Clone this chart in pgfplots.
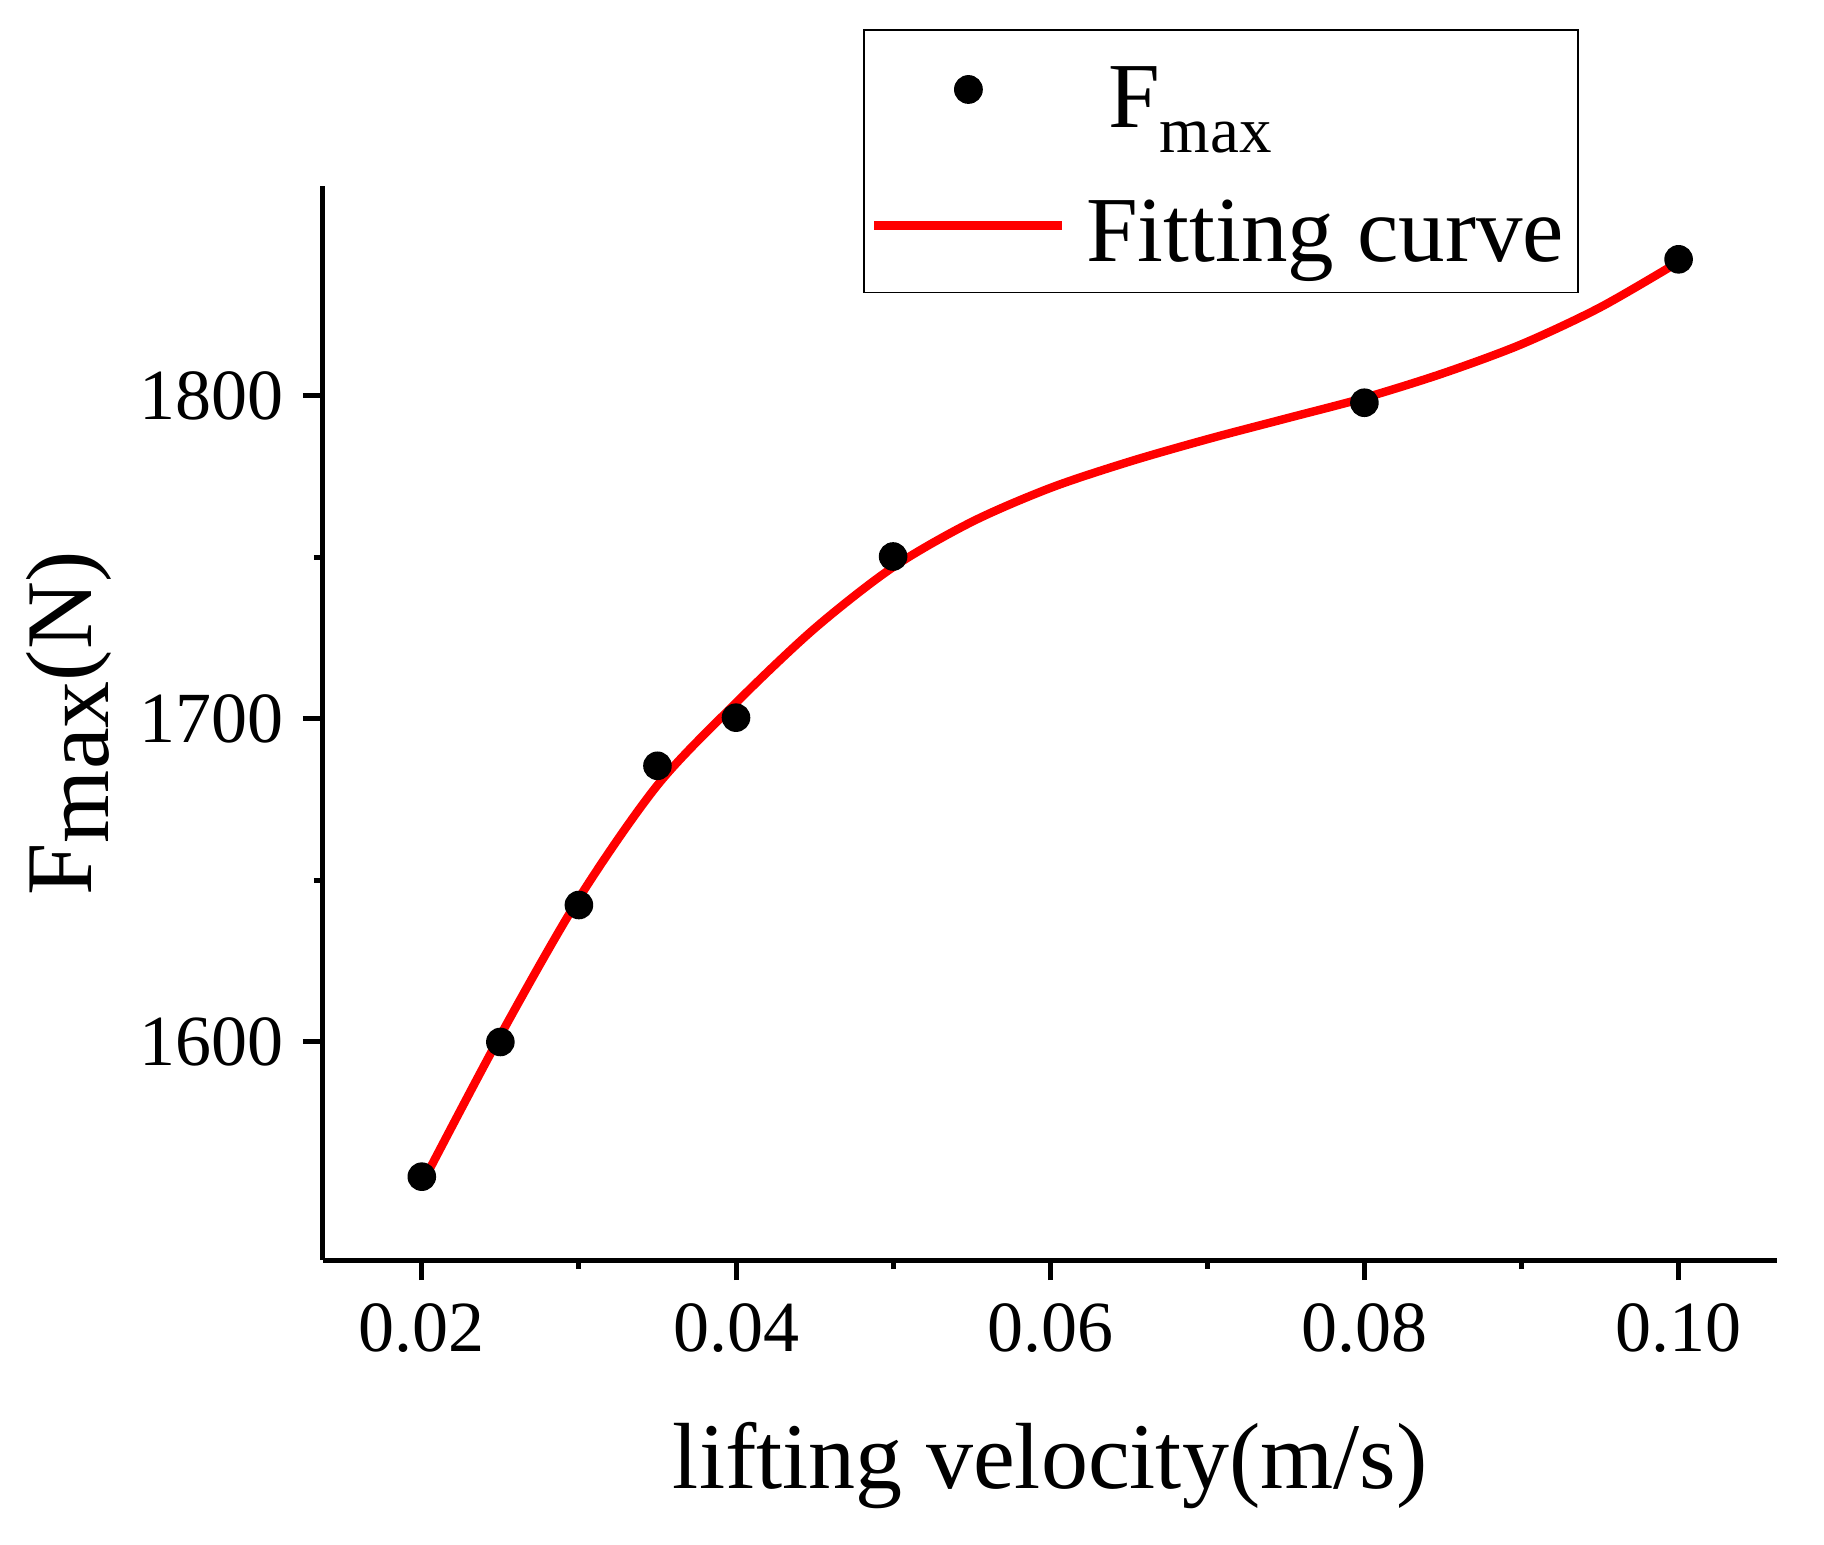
\documentclass[border=0pt]{standalone}
\usepackage{pgfplots}
\pgfplotsset{compat=1.18}
\usepackage{fontspec}
\setmainfont{Liberation Serif}
\pgfplotsset{
  mydot/.style={legend image code/.code={\draw[mark repeat=2,mark phase=2,##1] plot coordinates {(0pt,9.6pt)(23.5pt,9.6pt)(47pt,9.6pt)};}},
  myline/.style={legend image code/.code={\draw[##1, mark=none, line width=2.25pt] (0pt,8.85pt) -- (47pt,8.85pt);}},
}
\pgfplotstableread{
x y
0.020 1558.3
0.025 1600.0
0.030 1642.4
0.035 1685.5
0.040 1700.4
0.050 1750.3
0.080 1797.9
0.100 1842.3
}\pointdata
\pgfplotstableread{
x y
0.020 1556.0
0.025 1602.0
0.030 1644.5
0.035 1679.5
0.040 1705.0
0.045 1728.0
0.050 1747.0
0.055 1761.0
0.060 1771.5
0.065 1779.6
0.070 1786.6
0.075 1793.0
0.080 1799.4
0.085 1807.0
0.090 1816.0
0.095 1827.4
0.100 1841.5
}\curvedata
\begin{document}
\begin{tikzpicture}
\begin{axis}[
  at={(0pt,0pt)}, anchor=south west,
  scale only axis,
  width=363.6pt, height=268.5pt,
  xmin=0.01371, xmax=0.10629,
  ymin=1532.5, ymax=1865,
  axis lines=left,
  axis line style={-, line width=1.25pt},
  tick style={line width=1.25pt, black},
  tick align=outside,
  major tick length=5pt,
  minor tick length=2.25pt,
  xtick={0.02,0.04,0.06,0.08,0.10},
  ytick={1600,1700,1800},
  minor tick num=1,
  /pgf/number format/assume math mode=true,
  /pgf/number format/1000 sep={},
  xticklabel style={/pgf/number format/fixed, /pgf/number format/fixed zerofill, /pgf/number format/precision=2, anchor=north, inner sep=0pt},
  yticklabel style={anchor=east, inner sep=0pt},
  xticklabel shift=5.75pt,
  yticklabel shift=4.75pt,
  tick label style={font=\fontsize{18pt}{20pt}\selectfont},
  every axis x label/.style={at={(axis description cs:0.5,-0.2132)}, anchor=base, inner sep=0pt, font=\fontsize{23.5pt}{26pt}\selectfont},
  every axis y label/.style={at={(axis description cs:-0.159,0.5)}, rotate=90, anchor=base, inner sep=0pt, font=\fontsize{23.5pt}{26pt}\selectfont},
  xlabel={lifting velocity(m/s)},
  ylabel={F\raisebox{-4.2pt}{max}(N)},
  legend style={at={(axis description cs:0.3713,1.1462)}, anchor=north west,
    draw=black, line width=0.45pt, inner xsep=1.5pt, inner ysep=4.3pt,
    row sep=10.85pt,
    font=\fontsize{23.25pt}{26pt}\selectfont,
    cells={anchor=base west, inner sep=0pt},
    /tikz/every odd column/.append style={column sep=2.8pt}},
  clip=false,
]
\addplot[only marks, mark=*, mark size=3.375pt, black, mydot]
  table[x=x,y=y] {\pointdata};
\addlegendentry{\hspace{5.5pt}\rule[-6.25pt]{0pt}{24.45pt}F\raisebox{-6.25pt}{\fontsize{16.25pt}{18pt}\selectfont max}}
\addplot[red, line width=2.1pt, smooth, mark=none, myline]
  table[x=x,y=y] {\curvedata};
\addlegendentry{Fitting curve\rule[-8.65pt]{0pt}{25.65pt}\hspace{-1.5pt}}
\end{axis}
\pgfresetboundingbox
\useasboundingbox (-80.75pt,-71.25pt) rectangle (375.25pt,315pt);
\end{tikzpicture}
\end{document}
